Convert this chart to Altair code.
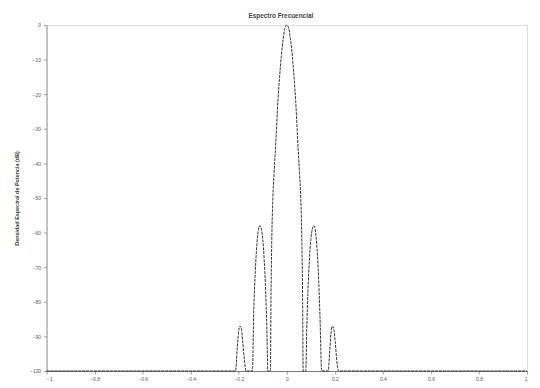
import altair as alt
import pandas as pd

# Spectrum readings (normalized frequency, dB)
freq = [-1.0, -0.213, -0.207, -0.201, -0.195, -0.189, -0.183, -0.176, -0.170,
        -0.143, -0.138, -0.131, -0.124, -0.118, -0.112, -0.106, -0.100, -0.094, -0.088, -0.083, -0.079,
        -0.068, -0.066, -0.063, -0.058, -0.053, -0.045, -0.037, -0.030, -0.023, -0.015, -0.008, 0.0,
        0.008, 0.015, 0.023, 0.030, 0.037, 0.045, 0.053, 0.058, 0.063, 0.066, 0.068,
        0.079, 0.083, 0.088, 0.094, 0.100, 0.106, 0.112, 0.118, 0.124, 0.131, 0.138, 0.145,
        0.172, 0.178, 0.184, 0.190, 0.196, 0.202, 0.208, 0.215, 1.0]
power = [-100, -100, -94, -89, -87, -88, -92, -97, -100,
         -100, -84, -71, -63, -59, -58, -59, -62, -68, -77, -88, -100,
         -100, -80, -64, -50, -43, -33, -22, -15, -9, -4, -1, 0,
         -1, -4, -9, -15, -22, -33, -43, -50, -64, -80, -100,
         -100, -88, -77, -68, -62, -59, -58, -59, -63, -71, -84, -100,
         -100, -95, -89, -87, -88, -92, -97, -100, -100]

x_ticks = [-1, -0.8, -0.6, -0.4, -0.2, 0, 0.2, 0.4, 0.6, 0.8, 1]
y_ticks = [0, -10, -20, -30, -40, -50, -60, -70, -80, -90, -100]

df = pd.DataFrame({"f": freq, "db": power})

chart = alt.Chart(df).mark_line(
    color="#333333", strokeWidth=1, strokeDash=[3, 1], interpolate="monotone"
).encode(
    x=alt.X("f:Q", scale=alt.Scale(domain=[-1, 1], nice=False),
            axis=alt.Axis(values=x_ticks, format="~g", title=None, grid=False, labelFontSize=5,
                          labelColor="#555555", domainColor="#777777", tickColor="#999999",
                          tickSize=3, labelPadding=3)),
    y=alt.Y("db:Q", scale=alt.Scale(domain=[-100, 0], nice=False),
            axis=alt.Axis(values=y_ticks, format="d", title="Densidad Espectral de Potencia (dB)",
                          titleFontSize=5.5, titleFont="Liberation Sans", titleColor="#444444",
                          titlePadding=10, grid=False, labelFontSize=5, labelColor="#555555",
                          domainColor="#999999", tickColor="#999999", tickSize=3, labelPadding=3)),
).properties(
    width=486, height=350,
    title=alt.TitleParams("Espectro Frecuencial", fontSize=6.5, font="Liberation Sans",
                          fontWeight="bold", color="#444444", offset=4, dx=-6),
    autosize=alt.AutoSizeParams(type="none"),
    padding={"left": 39, "top": 15, "right": 5, "bottom": 8},
).configure_view(stroke=None).configure(font="Liberation Sans")

chart.save("out.html", embed_options={"renderer": "svg", "actions": False})
